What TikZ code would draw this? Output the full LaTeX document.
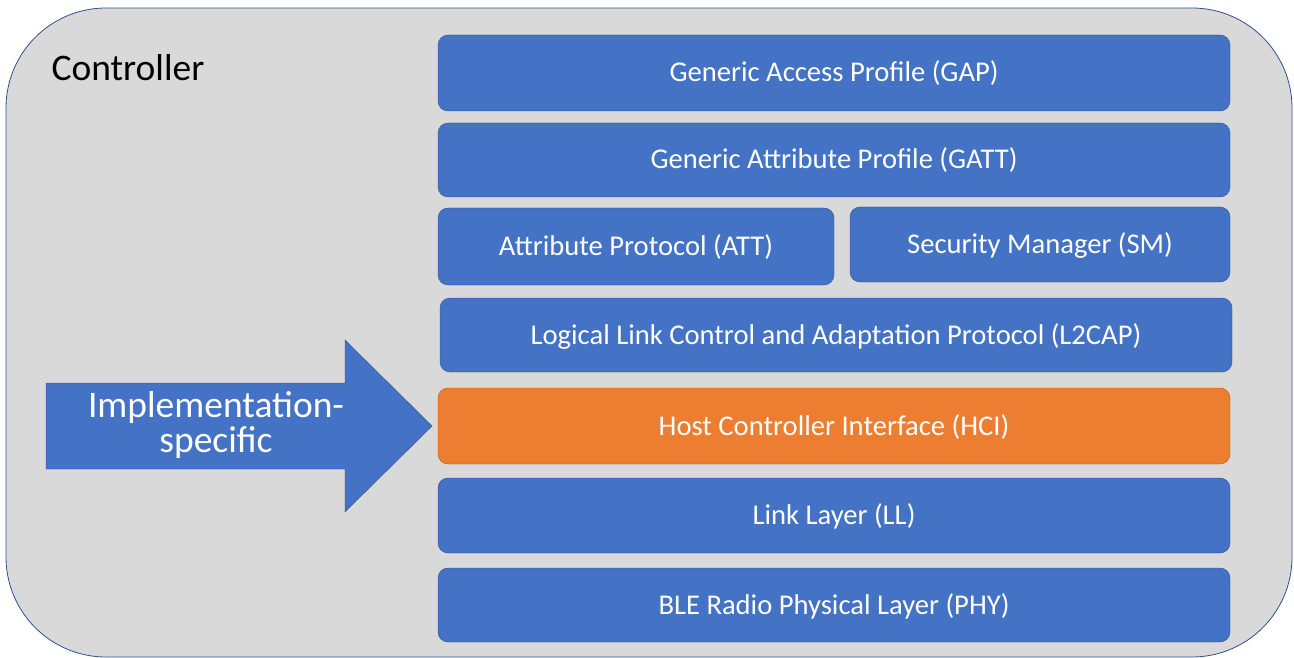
\documentclass[tikz,border=0pt]{standalone}
\usepackage{fontspec}
\setmainfont{Carlito}
\definecolor{layerblue}{HTML}{4472C4}
\definecolor{layeredge}{HTML}{2F528F}
\definecolor{hciorange}{HTML}{ED7D31}
\definecolor{hciedge}{HTML}{AE5A21}
\definecolor{ctrlgray}{HTML}{D9D9D9}

\begin{document}
\begin{tikzpicture}[x=1pt,y=-1pt,
    layer/.style={draw=layeredge,fill=layerblue,rounded corners=10pt,
      text=white,font=\fontsize{28.6}{32}\selectfont,inner sep=0pt,
      text height=24pt,text depth=6pt},
    hci/.style={layer,draw=hciedge,fill=hciorange}]
      \useasboundingbox (0,0) rectangle (1294,658) ;
      \draw[layeredge,thick,fill=ctrlgray,rounded corners=100pt] (6,8) rectangle (1292,657) ;
      \node[anchor=base west,font=\fontsize{37.5}{40}\selectfont] %
      (ctrl) at (48,81) {Controller} ;
      \node[layer,minimum width=792pt,minimum height=76pt] (gap) at (834,73) %
      {Generic Access Profile (GAP)} ;
      \node[layer,minimum width=792pt,minimum height=74pt] (gatt) at (834,160) %
      {Generic Attribute Profile (GATT)} ;
      \node[layer,minimum width=396pt,minimum height=77pt] (att) at (636,246.5) %
      {Attribute Protocol (ATT)} ;
      \node[layer,minimum width=380pt,minimum height=75pt] (sm) at (1040,244.5) %
      {Security Manager (SM)} ;
      \node[layer,minimum width=792pt,minimum height=74pt] (l2cap) at (836,335) %
      {Logical Link Control and Adaptation Protocol (L2CAP)} ;
      \node[hci,minimum width=792pt,minimum height=76pt] (hci) at (834,426) %
      {Host Controller Interface (HCI)} ;
      \node[layer,minimum width=792pt,minimum height=75pt] (ll) at (834,515.5) %
      {Link Layer (LL)} ;
      \node[layer,minimum width=792pt,minimum height=74pt] (phy) at (834,605) %
      {BLE Radio Physical Layer (PHY)} ;
      \draw[layeredge,fill=layerblue] (46,383) -- (345,383) -- (345,340) %
      -- (432,426) -- (345,512) -- (345,469) -- (46,469) -- cycle ;
      \node[text=white,align=center,font=\fontsize{37.5}{35}\selectfont] %
      (impl) at (216,424.5) {Implementation-\\specific} ;
    \end{tikzpicture}
\end{document}
